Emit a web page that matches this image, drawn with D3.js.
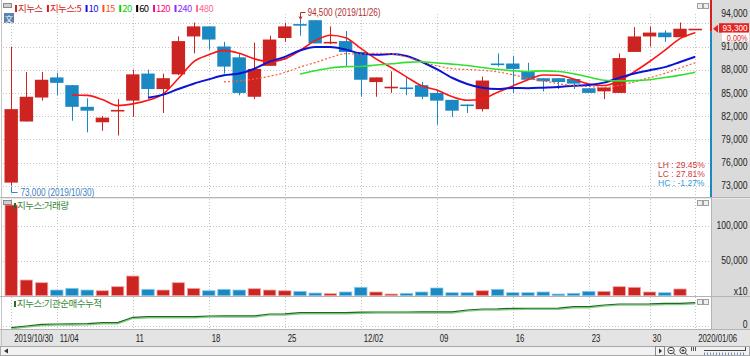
<!DOCTYPE html>
<html><head><meta charset="utf-8">
<script src="https://cdn.jsdelivr.net/npm/d3@7/dist/d3.min.js"></script>
<style>
html,body{margin:0;padding:0;background:#fff;}
svg{display:block;}
text{font-family:"Liberation Sans",Arial,sans-serif;}
.kr{font-family:"Noto Sans CJK KR",sans-serif;}
</style></head><body>
<svg id="c" width="750" height="356"></svg>
<script>
// ---------- DATA ----------
const dates = ["2019-10-30","2019-10-31","2019-11-01","2019-11-04","2019-11-05","2019-11-06","2019-11-07","2019-11-08",
"2019-11-11","2019-11-12","2019-11-13","2019-11-14","2019-11-15","2019-11-18","2019-11-19","2019-11-20","2019-11-21","2019-11-22",
"2019-11-25","2019-11-26","2019-11-27","2019-11-28","2019-11-29","2019-12-02","2019-12-03","2019-12-04","2019-12-05","2019-12-06",
"2019-12-09","2019-12-10","2019-12-11","2019-12-12","2019-12-13","2019-12-16","2019-12-17","2019-12-18","2019-12-19","2019-12-20",
"2019-12-23","2019-12-24","2019-12-26","2019-12-27","2019-12-30","2020-01-02","2020-01-03","2020-01-06"];
const opens  = [73400,81300,84400,87000,86000,83200,81200,82600,84000,87500,85500,87400,92300,93600,91000,89600,84500,88500,
92100,93900,94400,91400,91700,90300,86400,85700,85700,86000,85000,84100,83500,82900,88800,88800,87700,86900,86900,86800,
85600,85200,85000,90300,92300,92800,92200,93300];
const highs  = [91000,87700,87700,87600,86000,84300,82000,84200,88000,88000,87500,92300,94100,93600,91600,90100,91500,92400,
94100,94500,94400,93600,93000,90300,87000,87800,87000,86400,85400,84100,83500,87100,90100,89800,88900,86900,86900,86800,
85600,85700,90100,93500,93600,93100,94100,93300];
const lows   = [73000,81300,84000,84700,81400,79900,80100,79500,81900,84300,82400,87300,90100,90600,87500,84700,84200,88500,
91600,92400,91400,91300,88400,84500,84500,85000,84700,84200,80900,81900,82400,82600,88400,85000,86700,85200,85500,85500,
85000,84200,85000,90300,91000,91600,92200,93300];
const closes = [82900,84500,86700,86300,83200,82700,81800,82800,87400,85500,86900,91700,93600,91900,88400,85000,88100,91900,
93600,93800,91400,91600,90300,86700,87000,85800,85600,84500,84000,82700,83400,86600,88700,88100,86700,86500,86400,86200,
85000,85700,89500,92300,92800,92200,93300,93300];
// volume in units of 10 shares (axis "x10")
const volumes = [129600,22400,18600,8100,10500,8100,7100,12900,28100,9100,8100,18600,10500,7100,9100,8100,10000,8100,
7100,6200,3800,2900,5300,12000,5300,2400,3400,5300,11000,4300,4300,7100,9100,4300,4300,5300,2400,3400,6200,6200,
12900,12000,5300,4300,9600,0];
// institutional net-buy cumulative
const instCum = [-65000,0,65000,77000,78000,88000,127000,129000,335000,358000,360000,362000,363000,385000,386000,387000,
388000,462000,464000,512000,513000,514000,515000,536000,538000,538000,539000,540000,541000,542000,615000,654000,656000,
681000,682000,683000,684000,742000,744000,808000,846000,847000,848000,873000,874000,896000];
const maPeriods = [5,10,15,20];
const legendLabels = ["지누스","지누스:5","10","15","20","60","120","240","480"];
const priceTicks = [73000,76000,79000,82000,85000,88000,91000,94000];
const volTicks = [50000,100000];
const cumTicks = [0];
const dateTicks = ["2019-10-30","2019-11-04","2019-11-11","2019-11-18","2019-11-25","2019-12-02","2019-12-09","2019-12-16","2019-12-23","2019-12-30","2020-01-06"];
const dateTickLabels = ["2019/10/30","11/04","11","18","25","12/02","09","16","23","30","2020/01/06"];

// ---------- STYLES ----------
const UP="#cc2420", DOWN="#1a88c2";
const maColors = ["#ff1414","#0a14d2","#ff5a3a","#30e030"];
const legendColors = ["#c82828","#e01818","#1010e0","#ff5020","#10d010","#000000","#ff0a80","#8a2cff","#ff6a90"];
const NX = 0.86; // horizontal squeeze for the narrow numeric font

const svg = d3.select("#c");
const x = d3.scaleBand().domain(dates).range([3.6, 702.8]);
const bw = x.bandwidth();
const cx = d => x(d) + bw/2;
const y  = d3.scaleLinear().domain([73000,94000]).range([185.7,23.3]);
const yv = d3.scaleLinear().domain([0,100000]).range([295.7,225.7]);
const yc = d3.scaleLinear().domain([0,1000000]).range([326,300]);
const fmt = d3.format(",");

function ntext(X, Y, str, size, fill, anchor, k){
  return svg.append("text").attr("transform",`translate(${X},${Y}) scale(${k||NX},1)`)
    .attr("font-size",size).attr("fill",fill).attr("text-anchor",anchor||"start").text(str);
}

// backgrounds
svg.append("rect").attr("width",750).attr("height",356).attr("fill","#fff");
svg.append("rect").attr("x",712).attr("y",0).attr("width",38).attr("height",330).attr("fill","#dadada");
svg.append("rect").attr("x",0).attr("y",330).attr("width",750).attr("height",16).attr("fill","#e4e4e4");
svg.append("rect").attr("x",0.5).attr("y",346.5).attr("width",749).attr("height",9).attr("fill","#f2f2f2").attr("stroke","#a8a8a8");
svg.append("line").attr("x1",1.5).attr("x2",1.5).attr("y1",0).attr("y2",346).attr("stroke","#c4c4c4");
[[197.5,"#b4b4b4"],[198.5,"#e8e8e8"],[296.5,"#b4b4b4"],[329.5,"#b4b4b4"]].forEach(([yy,c])=>{
  svg.append("line").attr("x1",0).attr("x2",750).attr("y1",yy).attr("y2",yy).attr("stroke",c);
});
svg.append("line").attr("x1",711.5).attr("x2",711.5).attr("y1",198).attr("y2",330).attr("stroke","#b4b4b4");

// grid
const grid = svg.append("g").attr("stroke","#c4c4c4").attr("stroke-dasharray","1,2").attr("stroke-width",1);
priceTicks.forEach(t=>grid.append("line").attr("x1",3).attr("x2",710).attr("y1",Math.round(y(t))+0.5).attr("y2",Math.round(y(t))+0.5));
volTicks.forEach(t=>grid.append("line").attr("x1",3).attr("x2",710).attr("y1",Math.round(yv(t))+0.5).attr("y2",Math.round(yv(t))+0.5));
cumTicks.forEach(t=>grid.append("line").attr("x1",3).attr("x2",710).attr("y1",Math.round(yc(t))+0.5).attr("y2",Math.round(yc(t))+0.5));
dateTicks.forEach(d=>{
  const xx = Math.round(cx(d))+0.5;
  [[14,197],[199,296],[297,329]].forEach(([a,b])=>grid.append("line").attr("x1",xx).attr("x2",xx).attr("y1",a).attr("y2",b));
});

const data = dates.map((d,i)=>({d,i,o:opens[i],h:highs[i],l:lows[i],c:closes[i],v:volumes[i],k:instCum[i]}));
const col = d => d.c >= d.o ? UP : DOWN;

// candles
const cg = svg.append("g");
cg.selectAll("line.w").data(data).join("line")
  .attr("x1",d=>Math.round(cx(d.d))+0.5).attr("x2",d=>Math.round(cx(d.d))+0.5)
  .attr("y1",d=>y(d.h)).attr("y2",d=>y(d.l)).attr("stroke",col).attr("stroke-width",1);
cg.selectAll("rect").data(data).join("rect")
  .attr("x",d=>x(d.d)+0.9).attr("width",bw-1.8)
  .attr("y",d=>y(Math.max(d.o,d.c)))
  .attr("height",d=>Math.max(1.6, Math.abs(y(d.o)-y(d.c))))
  .attr("fill",col);

// moving averages (computed from the closes)
maPeriods.forEach((p,k)=>{
  const vals = closes.map((c,i)=> i<p-1 ? null : d3.mean(closes.slice(i-p+1,i+1)));
  const line = d3.line().defined(v=>v!==null).x((v,i)=>cx(dates[i])).y(v=>y(v)).curve(d3.curveMonotoneX);
  const pth = svg.append("path").attr("d",line(vals)).attr("fill","none").attr("stroke",maColors[k])
    .attr("stroke-width", p===10?2:(p===15?1.2:1.6));
  if(p===15) pth.attr("stroke-dasharray","2,2");
});

// hi / lo annotations
const hiI = d3.maxIndex(highs), loI = d3.minIndex(lows);
const dstr = s => s.replace(/-/g,"/");
{
  const hx = Math.round(cx(dates[hiI]))+0.5;
  svg.append("path").attr("d",`M${hx},${y(highs[hiI])-1}V12.5H${hx+5}`).attr("fill","none").attr("stroke","#b03030");
  svg.append("path").attr("d",`M${hx-1.5},${y(highs[hiI])-3}L${hx},${y(highs[hiI])}L${hx+1.5},${y(highs[hiI])-3}`).attr("fill","none").attr("stroke","#b03030");
  ntext(hx+7,16,`${fmt(highs[hiI])} (${dstr(dates[hiI])})`,10,"#b03030","start",0.82);
  const lx = Math.round(cx(dates[loI]))+0.5;
  svg.append("path").attr("d",`M${lx},${y(lows[loI])+1}V192.5H${lx+6}`).attr("fill","none").attr("stroke","#3a80c0");
  ntext(lx+9,196,`${fmt(lows[loI])} (${dstr(dates[loI])})`,10,"#3a80c0","start",0.82);
}
// LH / LC / HC
{
  const last = closes[closes.length-1], hi = highs[hiI], lo = lows[loI];
  const p = v => (v*100).toFixed(2)+"%";
  [["LH : "+p(hi/lo-1),"#d03a3a",165],["LC : "+p(last/lo-1),"#d03a3a",174],["HC : "+p(last/hi-1),"#2aa0d8",183]]
  .forEach(([t,c,yy])=>ntext(658,yy+3,t,9.5,c,"start",0.9));
}

// legend
{
  svg.append("rect").attr("x",3.5).attr("y",3.5).attr("width",8).attr("height",4).attr("fill","#cfcfcf").attr("stroke","#8a8a8a");
  svg.append("rect").attr("x",4).attr("y",13).attr("width",10).attr("height",10).attr("fill","#5a82b0");
  svg.append("text").attr("class","kr").attr("x",9).attr("y",21.5).attr("text-anchor","middle").attr("font-size",8).attr("fill","#fff").text("文");
  let lxp = 15;
  legendLabels.forEach((t,i)=>{
    svg.append("rect").attr("x",lxp).attr("y",5).attr("width",2).attr("height",7).attr("fill",legendColors[i]);
    const tx = svg.append("text").attr("class","kr").attr("x",lxp+3).attr("y",12).attr("font-size",9.5)
      .attr("fill",legendColors[i]).attr("letter-spacing",-0.6).text(t);
    lxp = lxp + 3 + tx.node().getComputedTextLength() + 4.5;
  });
  svg.append("rect").attr("x",697.5).attr("y",3.5).attr("width",5).attr("height",5).attr("fill","#eee").attr("stroke","#a0a0a0");
  svg.append("rect").attr("x",703.5).attr("y",3.5).attr("width",5).attr("height",5).attr("fill","#eee").attr("stroke","#a0a0a0");
}

// price axis
const pa = svg.append("g").attr("transform","translate(747.5,0)")
  .call(d3.axisLeft(y).tickValues(priceTicks).tickSize(0).tickPadding(0).tickFormat(fmt));
pa.select(".domain").remove();
pa.selectAll("text").attr("font-size",10).attr("fill","#222").attr("transform",`scale(${NX},1)`);
pa.selectAll(".tick").filter(d=>d===94000).select("text").attr("y", 13 - y(94000));

// right-side indicator bar + current price
{
  const last = closes[closes.length-1];
  const yy = y(last);
  svg.append("line").attr("x1",711).attr("x2",711).attr("y1",0).attr("y2",yy+3).attr("stroke","#d42020").attr("stroke-width",2);
  svg.append("line").attr("x1",711).attr("x2",711).attr("y1",yy+3).attr("y2",197).attr("stroke","#1a88c2").attr("stroke-width",2);
  svg.append("rect").attr("x",719).attr("y",yy-5.5).attr("width",30).attr("height",9.5).attr("fill","#e52420");
  svg.append("path").attr("d",`M713,${yy}L718,${yy-4}L718,${yy+4}Z`).attr("fill","#e52420");
  ntext(747.5,yy+2.2,fmt(last),9.5,"#fff","end");
  const prev = closes[closes.length-2];
  svg.append("rect").attr("x",722).attr("y",yy+4).attr("width",27).attr("height",8.5).attr("fill","#fff");
  ntext(747.5,yy+11.8,((last-prev)/prev*100).toFixed(2)+"%",8.5,"#e52420","end");
}

// volume
svg.append("g").selectAll("rect").data(data.filter(d=>d.v>0)).join("rect")
  .attr("x",d=>x(d.d)+1.4).attr("width",bw-2.8)
  .attr("y",d=>yv(d.v)).attr("height",d=>yv(0)-yv(d.v))
  .attr("fill",col).attr("stroke",d=>d.c>=d.o?"#f0a8a8":"#88c8ea").attr("stroke-width",0.8);
const va = svg.append("g").attr("transform","translate(747.5,0)")
  .call(d3.axisLeft(yv).tickValues(volTicks).tickSize(0).tickPadding(0).tickFormat(fmt));
va.select(".domain").remove();
va.selectAll("text").attr("font-size",10).attr("fill","#222").attr("transform",`scale(${NX},1)`);
ntext(747.5,294.5,"x10",10,"#222","end");
svg.append("rect").attr("x",3.5).attr("y",200.5).attr("width",8).attr("height",4).attr("fill","#cfcfcf").attr("stroke","#8a8a8a");
svg.append("rect").attr("x",14).attr("y",203).attr("width",2).attr("height",6).attr("fill","#2a6a2a");
svg.append("text").attr("class","kr").attr("x",17).attr("y",209).attr("font-size",9.5).attr("letter-spacing",-0.5).attr("fill","#3a8a3a").text("지누스:거래량");
[[697.5,200.5],[703.5,200.5],[697.5,299.5],[703.5,299.5]].forEach(([a,b])=>
  svg.append("rect").attr("x",a).attr("y",b).attr("width",5).attr("height",5).attr("fill","#eee").attr("stroke","#a0a0a0"));

// institutional cumulative
{
  const ln = d3.line().x(d=>cx(d.d)).y(d=>yc(d.k));
  svg.append("path").attr("d",ln(data)).attr("transform","translate(0,1.2)").attr("fill","none").attr("stroke","#86cc86").attr("stroke-width",1.3);
  svg.append("path").attr("d",ln(data)).attr("fill","none").attr("stroke","#1b6b1b").attr("stroke-width",1.2);
  const ca = svg.append("g").attr("transform","translate(747.5,0)")
    .call(d3.axisLeft(yc).tickValues(cumTicks).tickSize(0).tickPadding(0).tickFormat(fmt));
  ca.select(".domain").remove();
  ca.selectAll("text").attr("font-size",10).attr("fill","#222").attr("y",-2).attr("transform",`scale(${NX},1)`);
  svg.append("rect").attr("x",14).attr("y",301).attr("width",2).attr("height",6).attr("fill","#2a6a2a");
  svg.append("text").attr("class","kr").attr("x",17).attr("y",307).attr("font-size",9.5).attr("letter-spacing",-0.5).attr("fill","#3a8a3a").text("지누스:기관순매수누적");
}

// date axis
const DK = 0.78;
const da = svg.append("g").attr("transform","translate(0,333)")
  .call(d3.axisBottom(x).tickValues(dateTicks).tickSize(0).tickFormat((d,i)=>dateTickLabels[i]));
da.select(".domain").remove();
da.selectAll("text").attr("text-anchor","start").attr("x",3/DK).attr("y",2).attr("font-size",10).attr("fill","#222")
  .attr("transform",`scale(${DK},1)`);

// scrollbar widgets
svg.append("path").attr("d","M4,351L8,348.5L8,353.5Z").attr("fill","#333");
svg.append("rect").attr("x",655.5).attr("y",346.5).attr("width",9).attr("height",9).attr("fill","#f2f2f2").attr("stroke","#888");
svg.append("path").attr("d","M659,348.5L662,351L659,353.5Z").attr("fill","#333");
[671,683].forEach((c,i)=>{
  svg.append("circle").attr("cx",c).attr("cy",350.5).attr("r",3.2).attr("fill","none").attr("stroke","#444");
  svg.append("line").attr("x1",c+2.3).attr("y1",352.8).attr("x2",c+4.5).attr("y2",355).attr("stroke","#444");
  svg.append("line").attr("x1",c-1.6).attr("x2",c+1.6).attr("y1",350.5).attr("y2",350.5).attr("stroke","#444");
  if(i===1) svg.append("line").attr("x1",c).attr("x2",c).attr("y1",348.9).attr("y2",352.1).attr("stroke","#444");
});
[691,693,695].forEach(a=>svg.append("line").attr("x1",a+0.5).attr("x2",a+0.5).attr("y1",347).attr("y2",351).attr("stroke","#555"));
svg.append("line").attr("x1",704).attr("x2",745).attr("y1",350.5).attr("y2",350.5).attr("stroke","#444");
svg.append("line").attr("x1",745.5).attr("x2",745.5).attr("y1",347).attr("y2",351).attr("stroke","#444");
d3.range(704,745,3).forEach(a=>svg.append("line").attr("x1",a+0.5).attr("x2",a+0.5).attr("y1",352.5).attr("y2",355).attr("stroke","#7090c0"));
</script>
</body></html>
